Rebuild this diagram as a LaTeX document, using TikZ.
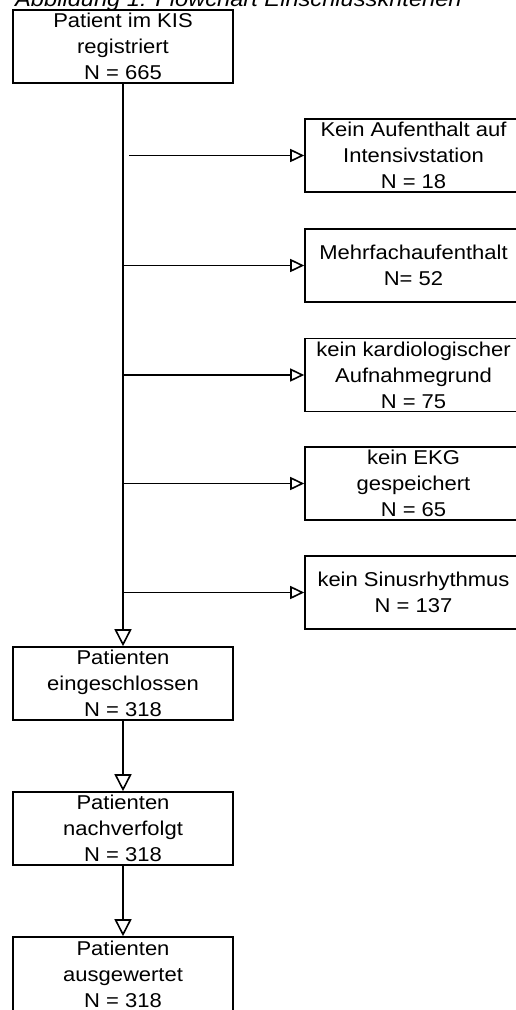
\documentclass[tikz,border=0pt]{standalone}
\usepackage{fontspec}
\setmainfont{Liberation Sans}[FakeStretch=1.1]
\newfontfamily\capfont{Liberation Sans}[FakeStretch=1.1]
\usetikzlibrary{arrows.meta}
\begin{document}
\begin{tikzpicture}[x=1pt,y=-1pt,
  txt/.style={font=\fontsize{20}{26}\selectfont, align=center, inner sep=0pt},
  mainbox/.style={txt, draw, line width=1.6pt, minimum width=220pt, minimum height=73pt},
  sidebox/.style={txt, draw, line width=1.6pt, minimum width=217pt, minimum height=73pt},
  sidearrow/.style={line width=1.6pt, -{Triangle[open, length=14pt, width=13pt]}},
  downarrow/.style={line width=1.6pt, -{Triangle[open, length=17pt, width=17pt]}}]
\useasboundingbox (0,0) rectangle (515,1010);
\node[anchor=base west, inner sep=0pt, font=\capfont\itshape\fontsize{21.5}{24}\selectfont] (cap) at (15,6.5) {Abbildung 1: Flowchart Einschlusskriterien};
\node[mainbox] (reg) at (123,46.5) {Patient im KIS\\registriert\\N = 665};
\node[sidebox] (s1) at (413.5,155.5) {Kein Aufenthalt auf\\Intensivstation\\N = 18};
\node[sidebox] (s2) at (413.5,265.5) {Mehrfachaufenthalt\\N= 52};
\node[sidebox] (s3) at (413.5,375) {kein kardiologischer\\Aufnahmegrund\\N = 75};
\node[sidebox] (s4) at (413.5,483.5) {kein EKG\\gespeichert\\N = 65};
\node[sidebox] (s5) at (413.5,592.5) {kein Sinusrhythmus\\N = 137};
\node[mainbox] (inc) at (123,683.5) {Patienten\\eingeschlossen\\N = 318};
\node[mainbox] (fol) at (123,828.5) {Patienten\\nachverfolgt\\N = 318};
\node[mainbox, minimum height=75pt] (eva) at (123,974.5) {Patienten\\ausgewertet\\N = 318};
\coordinate (j1) at (129,155.5);
\coordinate (j2) at (123,265.5);
\coordinate (j3) at (123,375);
\coordinate (j4) at (123,483.5);
\coordinate (j5) at (123,592.5);
\draw[downarrow] (reg.south) -- (inc.north);
\draw[sidearrow] (j1) -- (s1.west);
\draw[sidearrow] (j2) -- (s2.west);
\draw[sidearrow] (j3) -- (s3.west);
\draw[sidearrow] (j4) -- (s4.west);
\draw[sidearrow] (j5) -- (s5.west);
\draw[downarrow] (inc.south) -- (fol.north);
\draw[downarrow] (fol.south) -- (eva.north);
\end{tikzpicture}
\end{document}
